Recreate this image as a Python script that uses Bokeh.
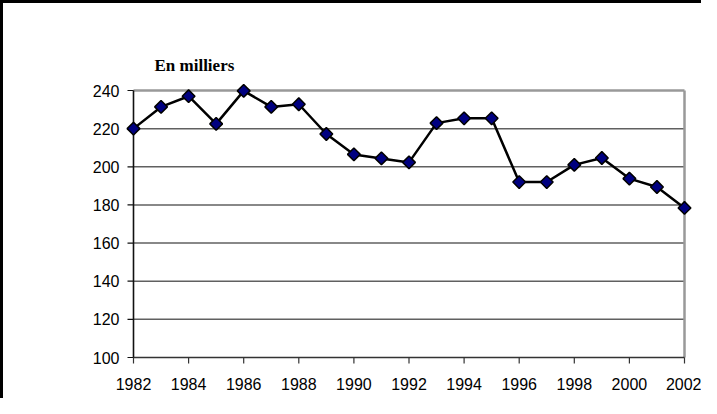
from bokeh.plotting import figure
from bokeh.models import Range1d, FixedTicker
from bokeh.embed import file_html
from bokeh.resources import INLINE
import numpy as np

# ---- data ----
years = [1982, 1983, 1984, 1985, 1986, 1987, 1988, 1989, 1990, 1991, 1992,
         1993, 1994, 1995, 1996, 1997, 1998, 1999, 2000, 2001, 2002]
values = [220.0, 231.4, 237.0, 222.5, 239.8, 231.4, 232.8, 217.2, 206.5, 204.4, 202.3,
          222.9, 225.4, 225.4, 192.0, 192.0, 201.0, 204.6, 193.8, 189.4, 178.4]
x_ticks = [1982, 1984, 1986, 1988, 1990, 1992, 1994, 1996, 1998, 2000, 2002]
y_ticks = [100, 120, 140, 160, 180, 200, 220, 240]
title_text = "En milliers"

# ---- layout constants (pixels) ----
X0, X1 = years[0], years[-1]
Y0, Y1 = y_ticks[0], y_ticks[-1]
data_w, data_h = 551, 267
pad_x_px, pad_y_px = 10, 8
px_x = (X1 - X0) / data_w          # data units per pixel (x)
px_y = (Y1 - Y0) / data_h          # data units per pixel (y)
pad_x = pad_x_px * px_x
pad_y = pad_y_px * px_y
tick_len = 6

p = figure(
    output_backend="svg", toolbar_location=None,
    frame_width=data_w + 2 * pad_x_px, frame_height=data_h + 2 * pad_y_px,
    min_border_left=120, min_border_right=7, min_border_top=79, min_border_bottom=33,
    x_range=Range1d(X0 - pad_x, X1 + pad_x), y_range=Range1d(Y0 - pad_y, Y1 + pad_y),
    background_fill_color="white", border_fill_color="white",
)
p.styles = {"border-left": "3px solid black", "border-top": "3px solid black"}
p.outline_line_color = None
p.xgrid.visible = False
p.ygrid.visible = False

# inner grid lines
inner = y_ticks[1:-1]
p.segment(x0=[X0] * len(inner), x1=[X1] * len(inner), y0=inner, y1=inner,
          line_color="#606060", line_width=1.5)
# frame top and right (gray)
p.segment(x0=[X0], x1=[X1], y0=[Y1], y1=[Y1], line_color="#999999", line_width=2.5)
p.segment(x0=[X1], x1=[X1], y0=[Y0], y1=[Y1], line_color="#999999", line_width=2.5)
# axis lines and tick marks
p.segment(x0=[X0], x1=[X1], y0=[Y0], y1=[Y0], line_color="#333333", line_width=1.6)
p.segment(x0=[X0], x1=[X0], y0=[Y0], y1=[Y1], line_color="#111111", line_width=1.6)
p.segment(x0=x_ticks, x1=x_ticks, y0=[Y0] * len(x_ticks),
          y1=[Y0 - tick_len * px_y] * len(x_ticks), line_color="#333333", line_width=1.2)
p.segment(x0=[X0] * len(y_ticks), x1=[X0 - tick_len * px_x] * len(y_ticks),
          y0=y_ticks, y1=y_ticks, line_color="#111111", line_width=1.2)

# axes: labels only
for ax in list(p.xaxis) + list(p.yaxis):
    ax.axis_line_color = None
    ax.major_tick_line_color = None
    ax.minor_tick_line_color = None
    ax.major_tick_out = 0
    ax.major_tick_in = 0
    ax.major_label_text_font = "Liberation Sans"
    ax.major_label_text_font_size = "16px"
    ax.major_label_text_color = "black"
p.xaxis.ticker = FixedTicker(ticks=x_ticks)
p.yaxis.ticker = FixedTicker(ticks=y_ticks)
p.xaxis.major_label_standoff = 12
p.yaxis.major_label_standoff = 4

# series
p.line(years, values, line_color="black", line_width=2.5)
p.scatter(years, values, marker="square", angle=np.pi / 4, size=9,
          fill_color="#000080", line_color="black", line_width=1.5)

# title
p.title.text = title_text
p.title.align = "left"
p.title.offset = 31
p.title.standoff = 16
p.title.text_font = "Liberation Serif"
p.title.text_font_style = "bold"
p.title.text_font_size = "17px"
p.title.text_color = "black"

open("out.html", "w").write(file_html(p, INLINE))
